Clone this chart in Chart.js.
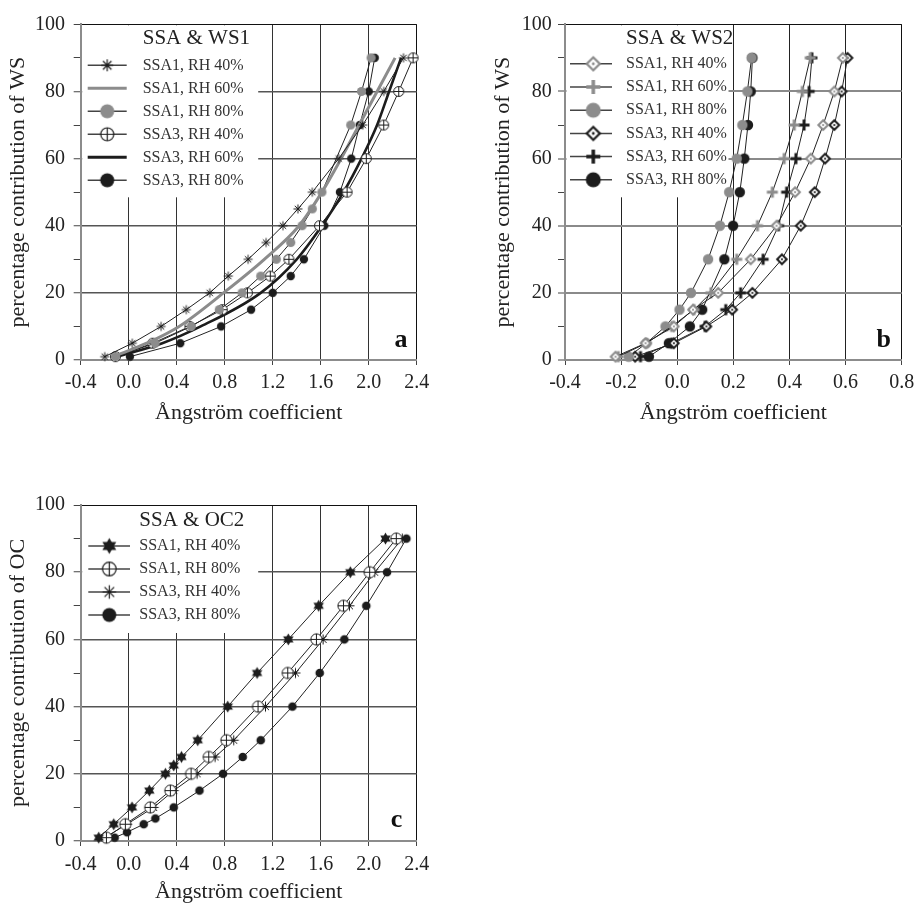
<!DOCTYPE html>
<html>
<head>
<meta charset="utf-8">
<script src="https://cdn.jsdelivr.net/npm/chart.js@4.4.1/dist/chart.umd.min.js"></script>
<style>
  html, body { margin: 0; padding: 0; background: #fff; overflow: hidden; }
  body { width: 915px; height: 909px; position: relative; }
  canvas { position: absolute; }
</style>
</head>
<body>
<canvas id="cA" width="450" height="440" style="left:0px;top:0px"></canvas>
<canvas id="cB" width="470" height="440" style="left:455px;top:0px"></canvas>
<canvas id="cC" width="450" height="449" style="left:0px;top:460px"></canvas>
<script>
// ---------------- tick values and labels ----------------
const xTicksAC = [-0.4, 0.0, 0.4, 0.8, 1.2, 1.6, 2.0, 2.4];
const xLabelsAC = ['-0.4', '0.0', '0.4', '0.8', '1.2', '1.6', '2.0', '2.4'];
const xTicksB = [-0.4, -0.2, 0.0, 0.2, 0.4, 0.6, 0.8];
const xLabelsB = ['-0.4', '-0.2', '0.0', '0.2', '0.4', '0.6', '0.8'];
const yTicks = [0, 10, 20, 30, 40, 50, 60, 70, 80, 90, 100];
const yLabels = ['0', '', '20', '', '40', '', '60', '', '80', '', '100'];

const xTitle = 'Ångström coefficient';
const yTitleWS = 'percentage contribution of WS';
const yTitleOC = 'percentage contribution of OC';

// ---------------- panel a : SSA & WS1 ----------------
const seriesA = ['SSA1, RH 40%', 'SSA1, RH 60%', 'SSA1, RH 80%', 'SSA3, RH 40%', 'SSA3, RH 60%', 'SSA3, RH 80%'];
const a_s1_40_y = [1, 5, 10, 15, 20, 25, 30, 35, 40, 45, 50, 60, 70, 80, 90];
const a_s1_40_x = [-0.20, 0.03, 0.27, 0.48, 0.675, 0.83, 0.995, 1.145, 1.285, 1.41, 1.53, 1.75, 1.95, 2.125, 2.29];
const a_s1_60_y = [1, 5, 10, 20, 30, 40, 50, 60, 70, 80, 90];
const a_s1_60_x = [-0.13, 0.15, 0.42, 0.79, 1.13, 1.42, 1.61, 1.77, 1.92, 2.07, 2.22];
const a_s1_80_y = [1, 5, 10, 15, 20, 25, 30, 35, 40, 45, 50, 70, 80, 90];
const a_s1_80_x = [-0.11, 0.22, 0.52, 0.755, 0.945, 1.10, 1.23, 1.35, 1.445, 1.53, 1.61, 1.85, 1.94, 2.02];
const a_s3_40_y = [1, 5, 10, 15, 20, 25, 30, 40, 50, 60, 70, 80, 90];
const a_s3_40_x = [-0.11, 0.20, 0.51, 0.78, 0.99, 1.18, 1.335, 1.59, 1.82, 1.98, 2.125, 2.25, 2.37];
const a_s3_60_y = [1, 5, 10, 20, 30, 40, 50, 60, 70, 80, 90];
const a_s3_60_x = [-0.10, 0.28, 0.60, 1.10, 1.40, 1.61, 1.79, 1.94, 2.07, 2.17, 2.27];
const a_s3_80_y = [1, 5, 10, 15, 20, 25, 30, 40, 50, 60, 70, 80, 90];
const a_s3_80_x = [0.01, 0.43, 0.77, 1.02, 1.20, 1.35, 1.46, 1.63, 1.76, 1.855, 1.925, 2.00, 2.05];

// ---------------- panel b : SSA & WS2 ----------------
const seriesB = ['SSA1, RH 40%', 'SSA1, RH 60%', 'SSA1, RH 80%', 'SSA3, RH 40%', 'SSA3, RH 60%', 'SSA3, RH 80%'];
const b_s1_40_y = [1, 5, 10, 15, 20, 30, 40, 50, 60, 70, 80, 90];
const b_s1_40_x = [-0.22, -0.113, -0.012, 0.056, 0.146, 0.262, 0.354, 0.42, 0.476, 0.52, 0.56, 0.59];
const b_s1_60_y = [1, 5, 10, 15, 20, 30, 40, 50, 60, 70, 80, 90];
const b_s1_60_x = [-0.21, -0.11, -0.02, 0.06, 0.12, 0.212, 0.286, 0.339, 0.381, 0.417, 0.446, 0.474];
const b_s1_80_y = [1, 5, 10, 15, 20, 30, 40, 50, 60, 70, 80, 90];
const b_s1_80_x = [-0.173, -0.11, -0.042, 0.008, 0.049, 0.11, 0.152, 0.185, 0.212, 0.232, 0.25, 0.265];
const b_s3_40_y = [1, 5, 10, 15, 20, 30, 40, 50, 60, 70, 80, 90];
const b_s3_40_x = [-0.15, -0.012, 0.104, 0.196, 0.268, 0.373, 0.44, 0.49, 0.527, 0.56, 0.586, 0.607];
const b_s3_60_y = [1, 5, 10, 15, 20, 30, 40, 50, 60, 70, 80, 90];
const b_s3_60_x = [-0.131, -0.02, 0.099, 0.173, 0.226, 0.306, 0.361, 0.39, 0.423, 0.452, 0.47, 0.48];
const b_s3_80_y = [1, 5, 10, 15, 30, 40, 50, 60, 70, 80, 90];
const b_s3_80_x = [-0.101, -0.03, 0.045, 0.089, 0.168, 0.199, 0.223, 0.239, 0.252, 0.262, 0.268];

// ---------------- panel c : SSA & OC2 ----------------
const seriesC = ['SSA1, RH 40%', 'SSA1, RH 80%', 'SSA3, RH 40%', 'SSA3, RH 80%'];
const c_s1_40_y = [1, 5, 10, 15, 20, 22.5, 25, 30, 40, 50, 60, 70, 80, 90];
const c_s1_40_x = [-0.25, -0.125, 0.028, 0.172, 0.306, 0.375, 0.44, 0.575, 0.825, 1.07, 1.33, 1.583, 1.847, 2.14];
const c_s1_80_y = [1, 5, 10, 15, 20, 25, 30, 40, 50, 60, 70, 80, 90];
const c_s1_80_x = [-0.186, -0.028, 0.18, 0.347, 0.52, 0.667, 0.814, 1.078, 1.325, 1.564, 1.79, 2.008, 2.23];
const c_s3_40_y = [1, 5, 10, 15, 20, 25, 30, 40, 50, 60, 70, 80, 90];
const c_s3_40_x = [-0.20, -0.014, 0.208, 0.375, 0.57, 0.72, 0.875, 1.14, 1.39, 1.62, 1.84, 2.05, 2.28];
const c_s3_80_y = [1, 2.6, 5, 6.7, 10, 15, 20, 25, 30, 40, 50, 60, 70, 80, 90];
const c_s3_80_x = [-0.117, -0.014, 0.125, 0.222, 0.375, 0.59, 0.786, 0.95, 1.10, 1.364, 1.592, 1.797, 1.98, 2.153, 2.314];

// ---------------- styling ----------------
const GRAY = '#8c8c8c';
const DARK = '#1c1c1c';
const SERIF = 'Liberation Serif';

function makeCanvas(r, lw, fn) {
  const s = Math.ceil(2 * r + lw + 2);
  const c = document.createElement('canvas');
  c.width = s; c.height = s;
  const g = c.getContext('2d');
  g.translate(s / 2, s / 2);
  fn(g);
  return c;
}
const Marker = {
  asterisk: (r, col, lw) => makeCanvas(r, lw, g => {
    g.strokeStyle = col; g.lineWidth = lw; g.beginPath();
    for (let k = 0; k < 4; k++) {
      const a = k * Math.PI / 4;
      g.moveTo(-r * Math.cos(a), -r * Math.sin(a));
      g.lineTo(r * Math.cos(a), r * Math.sin(a));
    }
    g.stroke();
  }),
  dot: (r, fill) => makeCanvas(r, 1, g => {
    g.beginPath(); g.arc(0, 0, r, 0, 2 * Math.PI); g.fillStyle = fill; g.fill();
  }),
  crossCircle: (r, col, lw) => makeCanvas(r, lw, g => {
    g.beginPath(); g.arc(0, 0, r, 0, 2 * Math.PI); g.fillStyle = '#fff'; g.fill();
    g.strokeStyle = col; g.lineWidth = lw; g.stroke();
    g.beginPath(); g.moveTo(-r, 0); g.lineTo(r, 0); g.moveTo(0, -r); g.lineTo(0, r); g.stroke();
  }),
  diamond: (r, col, lw) => makeCanvas(r, lw, g => {
    g.beginPath(); g.moveTo(0, -r); g.lineTo(r, 0); g.lineTo(0, r); g.lineTo(-r, 0); g.closePath();
    g.fillStyle = '#fff'; g.fill(); g.strokeStyle = col; g.lineWidth = lw; g.stroke();
    g.beginPath(); g.arc(0, 0, Math.max(1, r * 0.22), 0, 2 * Math.PI); g.fillStyle = col; g.fill();
  }),
  plus: (r, col, lw) => makeCanvas(r, lw, g => {
    g.strokeStyle = col; g.lineWidth = lw; g.beginPath();
    g.moveTo(-r, 0); g.lineTo(r, 0); g.moveTo(0, -r); g.lineTo(0, r); g.stroke();
  }),
  hexStar: (r, col) => makeCanvas(r, 1, g => {
    g.fillStyle = col;
    for (const off of [-Math.PI / 2, Math.PI / 2]) {
      g.beginPath();
      for (let k = 0; k < 3; k++) {
        const a = off + k * 2 * Math.PI / 3;
        const px = r * Math.cos(a), py = r * Math.sin(a);
        if (k === 0) g.moveTo(px, py); else g.lineTo(px, py);
      }
      g.closePath(); g.fill();
    }
  })
};

function series(label, xs, ys, style) {
  return Object.assign({
    label,
    data: xs.map((x, i) => ({ x, y: ys[i] })),
    showLine: true,
    borderColor: '#222',
    borderWidth: 1,
    tension: 0,
    pointRadius: 5,
    pointHoverRadius: 5,
    clip: 6
  }, style);
}
function lineOnly(label, xs, ys, color, width) {
  return series(label, xs, ys, { borderColor: color, borderWidth: width, pointRadius: 0, pointHoverRadius: 0, tension: 0.35, cubicInterpolationMode: 'monotone' });
}

function insideLegend(cfg) {
  return {
    id: 'insideLegend',
    beforeDatasetsDraw(chart) {
      const { ctx, chartArea: ca } = chart;
      ctx.save();
      ctx.fillStyle = '#fff';
      ctx.fillRect(ca.left + 1.5, ca.top + 1, cfg.w, cfg.h);
      ctx.textAlign = 'left';
      ctx.textBaseline = 'middle';
      ctx.fillStyle = '#222';
      ctx.font = '21px "' + SERIF + '"';
      ctx.fillText(cfg.title, ca.left + cfg.textX, ca.top + cfg.titleY);
      ctx.font = '16px "' + SERIF + '"';
      chart.data.datasets.forEach((ds, i) => {
        const y = ca.top + cfg.rowY0 + i * cfg.rowStep;
        const ln = cfg.lines[i] || { color: '#444', width: 1.5 };
        ctx.strokeStyle = ln.color; ctx.lineWidth = ln.width;
        ctx.beginPath(); ctx.moveTo(ca.left + cfg.lineX0, y); ctx.lineTo(ca.left + cfg.lineX1, y); ctx.stroke();
        const m = cfg.markers[i];
        if (m) ctx.drawImage(m, ca.left + cfg.markX - m.width / 2, y - m.height / 2);
        ctx.fillStyle = '#333';
        ctx.fillText(ds.label, ca.left + cfg.textX, y);
      });
      ctx.restore();
    },
    afterDraw(chart) {
      const { ctx, chartArea: ca } = chart;
      ctx.save();
      ctx.font = 'bold 26px "' + SERIF + '"';
      ctx.fillStyle = '#111';
      ctx.textAlign = 'center';
      ctx.textBaseline = 'alphabetic';
      ctx.fillText(cfg.letter, ca.right - cfg.letterDX, ca.bottom - cfg.letterDY);
      ctx.restore();
    }
  };
}

function makeScales(o) {
  return {
    x: {
      type: 'linear',
      min: o.xt[0], max: o.xt[o.xt.length - 1],
      afterBuildTicks: s => { s.ticks = o.xt.map(v => ({ value: v })); },
      afterFit: s => { s.height = o.xh; },
      ticks: {
        autoSkip: false, maxRotation: 0, minRotation: 0, padding: o.xpad, color: '#222',
        font: { family: SERIF, size: 20 },
        callback: (v, i) => o.xl[i]
      },
      grid: { color: c => (c.tick && Math.abs(c.tick.value - o.xt[o.xt.length - 1]) < 1e-9) ? '#111' : o.vGrid,
              lineWidth: 1, tickLength: 5, tickColor: '#444', tickWidth: 1 },
      border: { display: true, color: GRAY, width: 2 },
      title: { display: true, text: xTitle, color: '#222', font: { family: SERIF, size: 22 },
               padding: { top: 0, bottom: o.xtp } }
    },
    y: {
      type: 'linear',
      min: 0, max: 100,
      afterBuildTicks: s => { s.ticks = yTicks.map(v => ({ value: v })); },
      afterFit: s => { s.width = o.yw; },
      ticks: {
        autoSkip: false, padding: o.ypad, color: '#222',
        font: { family: SERIF, size: 20 },
        callback: (v, i) => yLabels[i]
      },
      grid: {
        color: c => {
          if (!c.tick) return 'rgba(0,0,0,0)';
          const v = c.tick.value;
          if (v === 100) return '#111';
          return (v % 20 === 0) ? o.hGrid : 'rgba(0,0,0,0)';
        },
        lineWidth: c => (c.tick && c.tick.value !== 100 && c.tick.value % 20 === 0) ? o.hGridW : 1,
        tickLength: 7, tickColor: '#444', tickWidth: 1
      },
      border: { display: true, color: GRAY, width: 2 },
      title: { display: true, text: o.ytitle, color: '#222', font: { family: SERIF, size: 22 },
               padding: { top: o.ytp, bottom: 0 } }
    }
  };
}

function baseOptions(o) {
  return {
    responsive: false,
    maintainAspectRatio: false,
    animation: false,
    devicePixelRatio: 1,
    events: [],
    layout: { padding: o.pad },
    plugins: { legend: { display: false }, tooltip: { enabled: false } },
    scales: makeScales(o)
  };
}

// ---------------- panel a ----------------
(function () {
  const mk = {
    ast: Marker.asterisk(4.5, DARK, 1), g80: Marker.dot(4.6, GRAY),
    cc: Marker.crossCircle(5, DARK, 1), b80: Marker.dot(4.2, DARK)
  };
  const datasets = [
    series(seriesA[0], a_s1_40_x, a_s1_40_y, { pointStyle: mk.ast }),
    lineOnly(seriesA[1], a_s1_60_x, a_s1_60_y, GRAY, 3),
    series(seriesA[2], a_s1_80_x, a_s1_80_y, { pointStyle: mk.g80 }),
    series(seriesA[3], a_s3_40_x, a_s3_40_y, { pointStyle: mk.cc }),
    lineOnly(seriesA[4], a_s3_60_x, a_s3_60_y, DARK, 2.6),
    series(seriesA[5], a_s3_80_x, a_s3_80_y, { pointStyle: mk.b80 })
  ];
  const legend = insideLegend({
    title: 'SSA & WS1', w: 176, h: 172, titleY: 14, textX: 62,
    lineX0: 7, lineX1: 46, markX: 26.5, rowY0: 41, rowStep: 23,
    lines: [null, { color: GRAY, width: 3 }, null, null, { color: DARK, width: 3 }, null],
    markers: [Marker.asterisk(6, DARK, 1.2), null, Marker.dot(7, GRAY), Marker.crossCircle(6.5, DARK, 1.2), null, Marker.dot(7, DARK)],
    letter: 'a', letterDX: 15.7, letterDY: 13.3
  });
  new Chart(document.getElementById('cA'), {
    type: 'scatter',
    data: { datasets },
    options: baseOptions({ xt: xTicksAC, xl: xLabelsAC, xh: 80, xpad: 5.7, xtp: 13.5,
      yw: 80.7, ypad: 8.7, ytp: 5.3, ytitle: yTitleWS,
      vGrid: '#333', hGrid: '#555', hGridW: 1.5,
      pad: { left: 0, top: 24.3, right: 33.3, bottom: 0 } }),
    plugins: [legend]
  });
})();

// ---------------- panel b ----------------
(function () {
  const mk = {
    gd: Marker.diamond(4.8, GRAY, 2), gp: Marker.plus(5.5, GRAY, 3), gc: Marker.dot(5.2, GRAY),
    bd: Marker.diamond(4.8, DARK, 2), bp: Marker.plus(5.5, DARK, 3), bc: Marker.dot(5.2, DARK)
  };
  const datasets = [
    series(seriesB[0], b_s1_40_x, b_s1_40_y, { pointStyle: mk.gd }),
    series(seriesB[1], b_s1_60_x, b_s1_60_y, { pointStyle: mk.gp }),
    series(seriesB[2], b_s1_80_x, b_s1_80_y, { pointStyle: mk.gc }),
    series(seriesB[3], b_s3_40_x, b_s3_40_y, { pointStyle: mk.bd }),
    series(seriesB[4], b_s3_60_x, b_s3_60_y, { pointStyle: mk.bp }),
    series(seriesB[5], b_s3_80_x, b_s3_80_y, { pointStyle: mk.bc })
  ];
  const legend = insideLegend({
    title: 'SSA & WS2', w: 162, h: 172, titleY: 14, textX: 61,
    lineX0: 5, lineX1: 47, markX: 28.3, rowY0: 39.5, rowStep: 23.2,
    lines: [],
    markers: [Marker.diamond(6.5, GRAY, 2.2), Marker.plus(7, GRAY, 3.5), Marker.dot(7.5, GRAY),
              Marker.diamond(6.5, DARK, 2.2), Marker.plus(7, DARK, 3.5), Marker.dot(7.5, DARK)],
    letter: 'b', letterDX: 17.9, letterDY: 13.3
  });
  new Chart(document.getElementById('cB'), {
    type: 'scatter',
    data: { datasets },
    options: baseOptions({ xt: xTicksB, xl: xLabelsB, xh: 80, xpad: 5.7, xtp: 13.5,
      yw: 110, ypad: 6.3, ytp: 35.3, ytitle: yTitleWS,
      vGrid: '#222', hGrid: '#8a8a8a', hGridW: 2,
      pad: { left: 0, top: 24.3, right: 23.3, bottom: 0 } }),
    plugins: [legend]
  });
})();

// ---------------- panel c ----------------
(function () {
  const mk = {
    hs: Marker.hexStar(6, DARK), cc: Marker.crossCircle(5.6, DARK, 1),
    ast: Marker.asterisk(5, DARK, 1), bc: Marker.dot(4.3, DARK)
  };
  const datasets = [
    series(seriesC[0], c_s1_40_x, c_s1_40_y, { pointStyle: mk.hs }),
    series(seriesC[1], c_s1_80_x, c_s1_80_y, { pointStyle: mk.cc }),
    series(seriesC[2], c_s3_40_x, c_s3_40_y, { pointStyle: mk.ast }),
    series(seriesC[3], c_s3_80_x, c_s3_80_y, { pointStyle: mk.bc })
  ];
  const legend = insideLegend({
    title: 'SSA & OC2', w: 176, h: 127, titleY: 15, textX: 58.6,
    lineX0: 7.6, lineX1: 49.3, markX: 28.6, rowY0: 41, rowStep: 23,
    lines: [],
    markers: [Marker.hexStar(8, DARK), Marker.crossCircle(6.8, DARK, 1.2), Marker.asterisk(6.8, DARK, 1.2), Marker.dot(7, DARK)],
    letter: 'c', letterDX: 20.2, letterDY: 14.3
  });
  new Chart(document.getElementById('cC'), {
    type: 'scatter',
    data: { datasets },
    options: baseOptions({ xt: xTicksAC, xl: xLabelsAC, xh: 68, xpad: 7, xtp: 3.2,
      yw: 80.7, ypad: 8.7, ytp: 5.3, ytitle: yTitleOC,
      vGrid: '#333', hGrid: '#555', hGridW: 1.5,
      pad: { left: 0, top: 45, right: 33.3, bottom: 0 } }),
    plugins: [legend]
  });
})();
</script>
</body>
</html>
